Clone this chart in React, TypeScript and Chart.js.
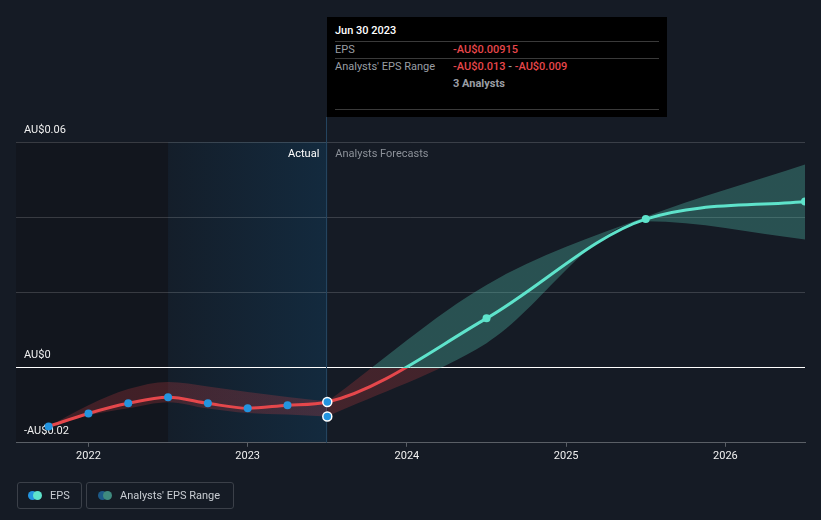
import React, { useEffect, useRef } from "react";
import { Chart, registerables } from "chart.js";

Chart.register(...registerables);

// ---- data ----
const actualDates = [2021.75, 2022.0, 2022.25, 2022.5, 2022.75, 2023.0, 2023.25, 2023.5];
const actualEps = [-0.01565, -0.0122, -0.0095, -0.0079, -0.0095, -0.0108, -0.01, -0.00915];
const pastRangeLow = [-0.01565, -0.0127, -0.0108, -0.0092, -0.0109, -0.0121, -0.0125, -0.013];
const pastRangeHigh = [-0.01565, -0.01, -0.0057, -0.0038, -0.005, -0.0065, -0.0078, -0.009];
const forecastDates = [2024.5, 2025.5, 2026.5];
const forecastEps = [0.0131, 0.0395, 0.0442];
const forecastLow = [0.0065, 0.0389, 0.0341];
const forecastHigh = [0.022, 0.0401, 0.054];
const yearTicks = [2022, 2023, 2024, 2025, 2026];
const yTicks = [-0.02, 0, 0.02, 0.04, 0.06];
const yTickLabels = ["-AU$0.02", "AU$0", "", "", "AU$0.06"];
const pastStart = 2022.5;
const todayDate = 2023.5;
const xMin = 2021.545;
const xMax = 2026.5;

const RED = "#e5474b";
const TEAL = "#5ee3cb";
const BLUE = "#2394df";
const FONT = "Roboto";

const allDates = [...actualDates, ...forecastDates];
const allEps = [...actualEps, ...forecastEps];
const epsPoints = allDates.map((d, i) => ({ x: d, y: allEps[i] }));
const pastLowPoints = actualDates.map((d, i) => ({ x: d, y: pastRangeLow[i] }));
const pastHighPoints = actualDates.map((d, i) => ({ x: d, y: pastRangeHigh[i] }));
const fcDates = [todayDate, ...forecastDates];
const fcLowVals = [pastRangeLow[pastRangeLow.length - 1], ...forecastLow];
const fcHighVals = [pastRangeHigh[pastRangeHigh.length - 1], ...forecastHigh];
const fcLowPoints = fcDates.map((d, i) => ({ x: d, y: fcLowVals[i] }));
const fcHighPoints = fcDates.map((d, i) => ({ x: d, y: fcHighVals[i] }));
const todayIndex = actualDates.length - 1;

function signGradient(chart: any, above: string, below: string) {
  const { ctx, chartArea, scales } = chart;
  if (!chartArea) return below;
  const y0 = scales.y.getPixelForValue(0);
  const f = Math.min(1, Math.max(0, (y0 - chartArea.top) / (chartArea.bottom - chartArea.top)));
  const g = ctx.createLinearGradient(0, chartArea.top, 0, chartArea.bottom);
  g.addColorStop(0, above);
  g.addColorStop(f, above);
  g.addColorStop(f, below);
  g.addColorStop(1, below);
  return g;
}

const BAND_TEAL = "rgba(84,196,176,0.32)";
const BAND_RED = "rgba(232,66,70,0.22)";

const regionsPlugin = {
  id: "regions",
  beforeDraw(chart: any) {
    const { ctx, chartArea, scales } = chart;
    const x = scales.x;
    const xl = chartArea.left;
    const xp = x.getPixelForValue(pastStart);
    const xt = x.getPixelForValue(todayDate);
    ctx.save();
    ctx.fillStyle = "#12161e";
    ctx.fillRect(xl, chartArea.top, xp - xl, chartArea.bottom - chartArea.top);
    const g = ctx.createLinearGradient(xp, 0, xt, 0);
    g.addColorStop(0, "#141e2a");
    g.addColorStop(1, "#132a3e");
    ctx.fillStyle = g;
    ctx.fillRect(xp, chartArea.top, xt - xp, chartArea.bottom - chartArea.top);
    ctx.restore();
  },
  beforeDatasetsDraw(chart: any) {
    const { ctx, chartArea, scales } = chart;
    const xt = scales.x.getPixelForValue(todayDate);
    ctx.save();
    ctx.strokeStyle = "#24445f";
    ctx.lineWidth = 1;
    ctx.beginPath();
    ctx.moveTo(Math.round(xt) - 0.5, 117);
    ctx.lineTo(Math.round(xt) - 0.5, chartArea.bottom);
    ctx.stroke();
    ctx.font = `11px ${FONT}`;
    ctx.textBaseline = "middle";
    ctx.textAlign = "right";
    ctx.fillStyle = "#ffffff";
    ctx.fillText("Actual", xt - 8, chartArea.top + 12);
    ctx.textAlign = "left";
    ctx.fillStyle = "#8c9199";
    ctx.fillText("Analysts Forecasts", xt + 8, chartArea.top + 12);
    ctx.restore();
  },
};

const hidden = "rgba(0,0,0,0)";

function ChartCanvas() {
  const ref = useRef<HTMLCanvasElement | null>(null);
  useEffect(() => {
    if (!ref.current) return;
    Chart.defaults.font.family = FONT;
    const chart = new Chart(ref.current, {
      type: "line",
      data: {
        datasets: [
          {
            label: "EPS",
            data: epsPoints,
            borderWidth: 3,
            cubicInterpolationMode: "monotone",
            borderColor: (c: any) => signGradient(c.chart, TEAL, RED),
            pointRadius: (c: any) => (c.dataIndex === todayIndex ? 4.5 : 4),
            pointBackgroundColor: (c: any) => (c.dataIndex <= todayIndex ? BLUE : TEAL),
            pointBorderColor: (c: any) =>
              c.dataIndex === todayIndex ? "#ffffff" : c.dataIndex < todayIndex ? BLUE : TEAL,
            pointBorderWidth: (c: any) => (c.dataIndex === todayIndex ? 1.5 : 0),
            fill: false,
          },
          {
            label: "PastLow",
            data: pastLowPoints,
            borderWidth: 0,
            borderColor: hidden,
            cubicInterpolationMode: "monotone",
            pointRadius: (c: any) => (c.dataIndex === todayIndex ? 4.5 : 0),
            pointBackgroundColor: BLUE,
            pointBorderColor: "#ffffff",
            pointBorderWidth: 1.5,
            fill: false,
          },
          {
            label: "PastHigh",
            data: pastHighPoints,
            borderWidth: 0,
            borderColor: hidden,
            cubicInterpolationMode: "monotone",
            pointRadius: 0,
            backgroundColor: (c: any) => signGradient(c.chart, BAND_TEAL, BAND_RED),
            fill: "-1",
          },
          {
            label: "ForecastLow",
            data: fcLowPoints,
            borderWidth: 0,
            borderColor: hidden,
            cubicInterpolationMode: "monotone",
            pointRadius: 0,
            fill: false,
          },
          {
            label: "ForecastHigh",
            data: fcHighPoints,
            borderWidth: 0,
            borderColor: hidden,
            cubicInterpolationMode: "monotone",
            pointRadius: 0,
            backgroundColor: (c: any) => signGradient(c.chart, BAND_TEAL, BAND_RED),
            fill: "-1",
          },
        ],
      } as any,
      options: {
        animation: false,
        responsive: true,
        maintainAspectRatio: false,
        layout: { padding: { left: 0, right: 16, top: 142, bottom: 54 } },
        plugins: { legend: { display: false }, tooltip: { enabled: false } },
        events: [],
        scales: {
          x: {
            type: "linear",
            min: xMin,
            max: xMax,
            afterBuildTicks: (axis: any) => {
              axis.ticks = yearTicks.map((v) => ({ value: v }));
            },
            ticks: {
              color: "#f0f0f0",
              font: { size: 11, family: FONT },
              padding: 3,
              maxRotation: 0,
              autoSkip: false,
              callback: (v: any) => String(v),
            },
            grid: { drawOnChartArea: false, drawTicks: true, tickLength: 4, color: "#5a5f66" },
            border: { display: true, color: "#5a5f66", width: 1 },
          },
          y: {
            type: "linear",
            min: -0.02,
            max: 0.06,
            afterBuildTicks: (axis: any) => {
              axis.ticks = yTicks.map((v) => ({ value: v }));
            },
            ticks: {
              mirror: true,
              padding: 8,
              labelOffset: -12,
              color: "#f0f0f0",
              font: { size: 11, family: FONT },
              callback: (v: any) => {
                const i = yTicks.findIndex((t) => Math.abs(t - v) < 1e-9);
                return i >= 0 ? yTickLabels[i] : "";
              },
            },
            grid: {
              drawTicks: false,
              color: (c: any) =>
                c.tick && Math.abs(c.tick.value) < 1e-9 ? "#ffffff" : "rgba(255,255,255,0.16)",
              lineWidth: 1,
            },
            border: { display: false },
          },
        },
      } as any,
      plugins: [regionsPlugin],
    });
    return () => chart.destroy();
  }, []);
  return <canvas ref={ref} />;
}

const abs = (l: number, t: number, extra: React.CSSProperties = {}): React.CSSProperties => ({
  position: "absolute",
  left: l,
  top: t,
  ...extra,
});

function Tooltip() {
  const grey = "#9a9ea4";
  const red = "#e8474b";
  const line = (t: number): React.CSSProperties =>
    abs(8, t, { width: 324, height: 1, background: "#3a3a3a" });
  return (
    <div
      style={abs(327, 17, {
        width: 340,
        height: 100,
        background: "#000000",
        fontSize: 11,
        lineHeight: "13px",
      })}
    >
      <div style={abs(8, 7, { color: "#ffffff", fontWeight: 500 })}>Jun 30 2023</div>
      <div style={line(24)} />
      <div style={abs(8, 26, { color: grey })}>EPS</div>
      <div style={abs(126, 26, { color: red, fontWeight: 500 })}>-AU$0.00915</div>
      <div style={line(41)} />
      <div style={abs(8, 43, { color: grey })}>Analysts' EPS Range</div>
      <div style={abs(126, 43, { fontWeight: 500, whiteSpace: "nowrap" })}>
        <span style={{ color: red }}>-AU$0.013</span>
        <span style={{ color: grey }}> - </span>
        <span style={{ color: red }}>-AU$0.009</span>
      </div>
      <div style={abs(126, 60, { color: grey, fontWeight: 700 })}>3 Analysts</div>
      <div style={line(92)} />
    </div>
  );
}

function Legend() {
  const box = (l: number, w: number): React.CSSProperties =>
    abs(l, 482, {
      width: w,
      height: 27,
      border: "1px solid #3b4049",
      borderRadius: 3,
      boxSizing: "border-box",
    });
  const dot = (l: number, c: string): React.CSSProperties =>
    abs(l, 8, { width: 9, height: 9, borderRadius: "50%", background: c });
  const txt = (l: number): React.CSSProperties =>
    abs(l, 6, { color: "#c9cdd3", fontSize: 11, lineHeight: "13px", whiteSpace: "nowrap" });
  return (
    <>
      <div style={box(17, 65)}>
        <div style={dot(10, BLUE)} />
        <div style={dot(15, TEAL)} />
        <div style={txt(32)}>EPS</div>
      </div>
      <div style={box(86, 148)}>
        <div style={dot(11, "#1d5a88")} />
        <div style={dot(16, "#3f8a7f")} />
        <div style={txt(33)}>Analysts' EPS Range</div>
      </div>
    </>
  );
}

export default function App() {
  return (
    <div
      style={{
        position: "fixed",
        left: 0,
        top: 0,
        width: 821,
        height: 520,
        background: "#151b25",
        fontFamily: FONT,
        overflow: "hidden",
      }}
    >
      <div style={{ position: "absolute", left: 0, top: 0, width: 821, height: 520 }}>
        <ChartCanvas />
      </div>
      <Tooltip />
      <Legend />
    </div>
  );
}
